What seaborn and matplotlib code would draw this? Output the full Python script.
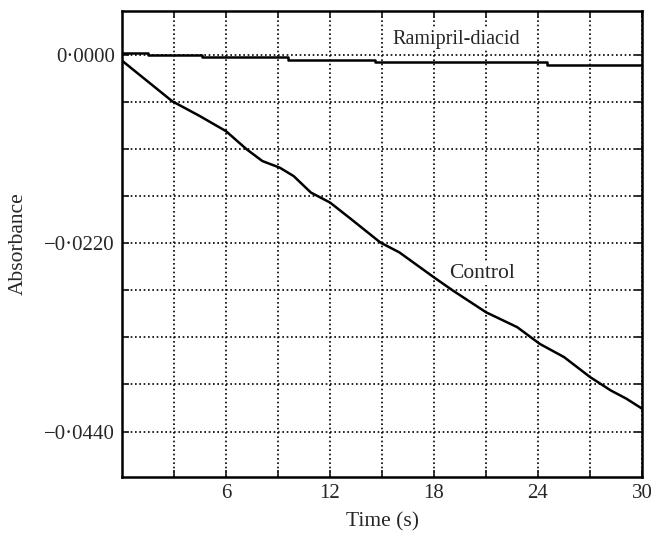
import numpy as np
import pandas as pd
import matplotlib
matplotlib.use("Agg")
import matplotlib.pyplot as plt
import seaborn as sns
from matplotlib.ticker import FixedLocator, FixedFormatter

# Control trace (time s, absorbance)
control_t = [0, 2.9, 4.5, 6.0, 7.2, 8.1, 9.1, 9.9, 10.9, 12.0, 13.15, 14.9, 16.0,
             18.0, 19.1, 21.0, 22.8, 24.1, 25.5, 27.0, 28.2, 29.1, 30.0]
control_a = [-0.0007, -0.00544, -0.00718, -0.00893, -0.01106, -0.01242, -0.01319,
             -0.01417, -0.0161, -0.01726, -0.01909, -0.02192, -0.02308, -0.0260,
             -0.02755, -0.03007, -0.03181, -0.03376, -0.0353, -0.03763, -0.0392,
             -0.04016, -0.04132]

# Ramipril-diacid trace (stepwise)
rami_t = [0, 1.5, 4.6, 9.6, 14.6, 24.5, 30.0]
rami_a = [0.0002, 0.0, -0.00027, -0.00058, -0.0008, -0.00116, -0.00116]

x_major = [6, 12, 18, 24, 30]
x_minor = [3, 9, 15, 21, 27]
y_major = [0.0, -0.022, -0.044]
y_major_labels = ['0\u00b70000', '\u22120\u00b70220', '\u22120\u00b70440']
y_minor = [-0.0055, -0.011, -0.0165, -0.0275, -0.033, -0.0385]

sns.set_style("ticks")
plt.rcParams['font.family'] = ['Liberation Serif', 'DejaVu Serif']

df_c = pd.DataFrame({'Time': control_t, 'Absorbance': control_a})
df_r = pd.DataFrame({'Time': rami_t, 'Absorbance': rami_a})

fig = plt.figure(figsize=(6.51, 5.38), dpi=100)
ax = fig.add_axes([0.1874, 0.1134, 0.7988, 0.8662])

sns.lineplot(data=df_c, x='Time', y='Absorbance', ax=ax, color='black', lw=1.8)
sns.lineplot(data=df_r, x='Time', y='Absorbance', ax=ax, color='black', lw=1.8,
             drawstyle='steps-post')

ax.set_xlim(0, 30)
ax.set_ylim(-0.0493, 0.0051)

ax.xaxis.set_major_locator(FixedLocator(x_major))
ax.xaxis.set_minor_locator(FixedLocator(x_minor))
ax.yaxis.set_major_locator(FixedLocator(y_major))
ax.yaxis.set_major_formatter(FixedFormatter(y_major_labels))
ax.yaxis.set_minor_locator(FixedLocator(y_minor))

ax.grid(True, which='both', color='black', linestyle=(0, (1, 1.6)), linewidth=1.2)
ax.tick_params(which='both', direction='in', length=5, width=1.3,
               top=True, right=True, labelsize=15, pad=5)

for s in ax.spines.values():
    s.set_linewidth(1.8)
    s.set_color('black')

ax.set_xlabel('Time (s)', fontsize=15.5, labelpad=7)
ax.set_ylabel('Absorbance', fontsize=15.5, labelpad=12)

# labels sit on white so the dotted grid breaks around them
box = dict(facecolor='white', edgecolor='none', pad=1)
ax.text(15.6, 0.0018, 'Ramipril-diacid', fontsize=14.5, ha='left', va='center',
        bbox=box, zorder=3)
ax.text(20.8, -0.0256, 'Control', fontsize=15.5, ha='center', va='center',
        bbox=box, zorder=3)

fig.savefig('out.png', dpi=100)
